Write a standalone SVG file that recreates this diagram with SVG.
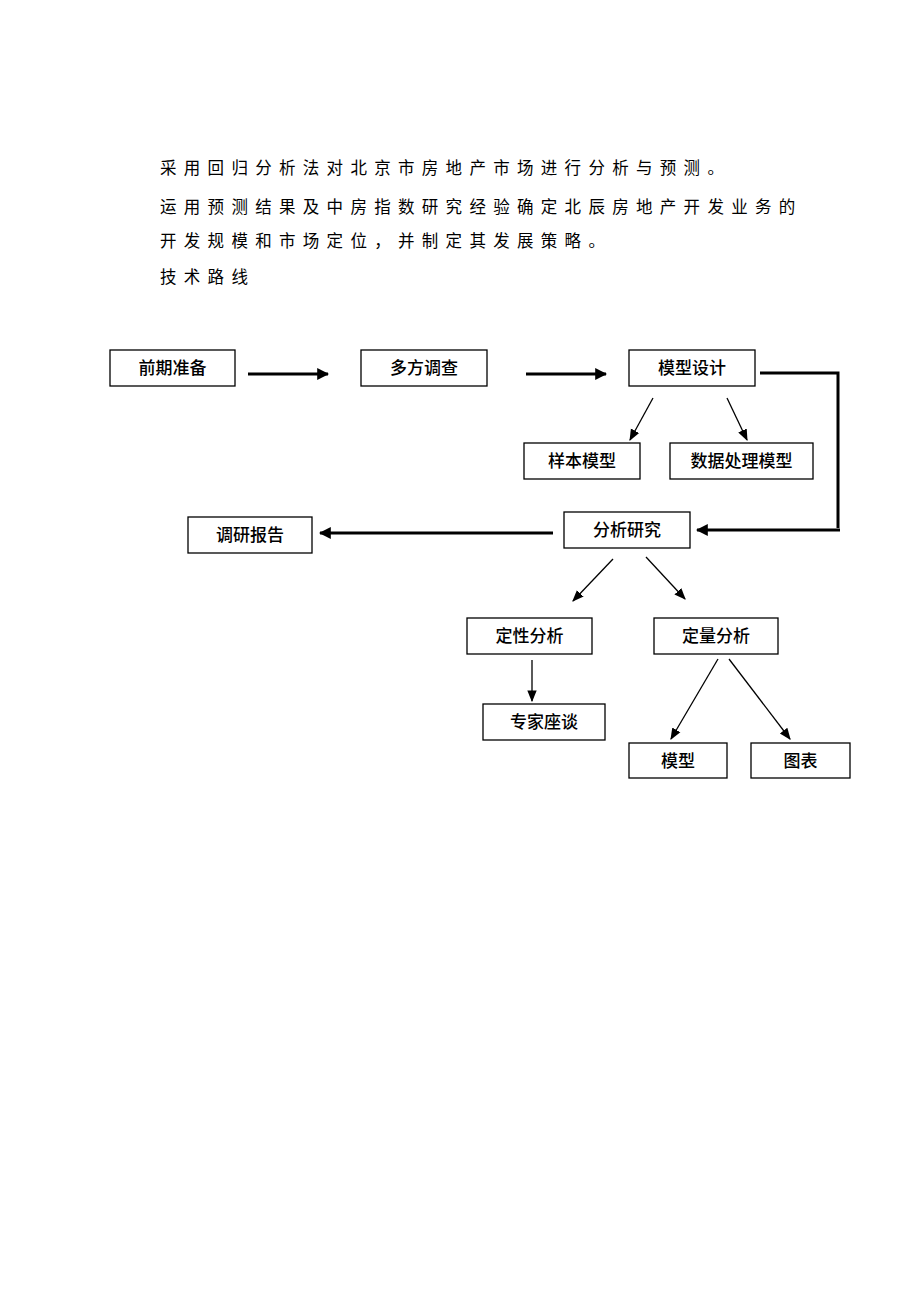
<svg xmlns="http://www.w3.org/2000/svg" width="920" height="1302" viewBox="0 0 920 1302">
<style>
.para{font-family:"Liberation Sans","Noto Sans CJK SC",sans-serif;font-size:16.5px;letter-spacing:7.3px;fill:#000}
.box{fill:#fff;stroke:#000;stroke-width:1.3}
.lbl{font-family:"Liberation Sans","Noto Sans CJK SC",sans-serif;font-size:17px;font-weight:500;fill:#000;text-anchor:middle}
.thick{stroke:#000;stroke-width:3;fill:none}
.thin{stroke:#000;stroke-width:1.3;fill:none}
</style>
<defs>
<marker id="ah" viewBox="0 0 10 10" refX="9" refY="5" markerWidth="4" markerHeight="4" markerUnits="strokeWidth" orient="auto"><path d="M0,0 L10,5 L0,10 z" fill="#000"/></marker>
<marker id="ahs" viewBox="0 0 10 10" refX="9" refY="5" markerWidth="9" markerHeight="9" markerUnits="strokeWidth" orient="auto"><path d="M0,1 L10,5 L0,9 z" fill="#000"/></marker>
</defs>
<rect width="920" height="1302" fill="#fff"/>
<g id="text">
<text class="para" x="160" y="174">采用回归分析法对北京市房地产市场进行分析与预测。</text>
<text class="para" x="160" y="213">运用预测结果及中房指数研究经验确定北辰房地产开发业务的</text>
<text class="para" x="160" y="247">开发规模和市场定位，并制定其发展策略。</text>
<text class="para" x="160" y="283">技术路线</text>
</g>
<g id="connectors">
<line class="thick" x1="248" y1="374" x2="328" y2="374" marker-end="url(#ah)"/>
<line class="thick" x1="526" y1="374" x2="606" y2="374" marker-end="url(#ah)"/>
<polyline class="thick" points="760,373 838,373 838,528"/>
<line class="thick" x1="840" y1="530" x2="697" y2="530" marker-end="url(#ah)"/>
<line class="thick" x1="553" y1="533" x2="320" y2="533" marker-end="url(#ah)"/>
<line class="thin" x1="653" y1="398" x2="630" y2="440" marker-end="url(#ahs)"/>
<line class="thin" x1="727" y1="398" x2="747" y2="440" marker-end="url(#ahs)"/>
<line class="thin" x1="613" y1="559" x2="573" y2="601" marker-end="url(#ahs)"/>
<line class="thin" x1="646" y1="557" x2="685" y2="599" marker-end="url(#ahs)"/>
<line class="thin" x1="532" y1="660" x2="532" y2="701" marker-end="url(#ahs)"/>
<line class="thin" x1="718" y1="659" x2="671" y2="739" marker-end="url(#ahs)"/>
<line class="thin" x1="729" y1="659" x2="790" y2="739" marker-end="url(#ahs)"/>
</g>
<g id="n1"><rect class="box" x="110" y="350" width="125" height="36"/><text class="lbl" x="172.5" y="374">前期准备</text></g>
<g id="n2"><rect class="box" x="361" y="350" width="126" height="36"/><text class="lbl" x="424" y="374">多方调查</text></g>
<g id="n3"><rect class="box" x="629" y="350" width="126" height="36"/><text class="lbl" x="692" y="374">模型设计</text></g>
<g id="n4"><rect class="box" x="524" y="443" width="116" height="36"/><text class="lbl" x="582" y="467">样本模型</text></g>
<g id="n5"><rect class="box" x="670" y="443" width="143" height="36"/><text class="lbl" x="741.5" y="467">数据处理模型</text></g>
<g id="n6"><rect class="box" x="188" y="517" width="124" height="36"/><text class="lbl" x="250" y="541">调研报告</text></g>
<g id="n7"><rect class="box" x="564" y="512" width="126" height="36"/><text class="lbl" x="627" y="536">分析研究</text></g>
<g id="n8"><rect class="box" x="467" y="618" width="125" height="36"/><text class="lbl" x="529.5" y="642">定性分析</text></g>
<g id="n9"><rect class="box" x="654" y="618" width="124" height="36"/><text class="lbl" x="716" y="642">定量分析</text></g>
<g id="n10"><rect class="box" x="483" y="704" width="122" height="36"/><text class="lbl" x="544" y="728">专家座谈</text></g>
<g id="n11"><rect class="box" x="629" y="743" width="98" height="35"/><text class="lbl" x="678" y="767">模型</text></g>
<g id="n12"><rect class="box" x="751" y="743" width="99" height="35"/><text class="lbl" x="800.5" y="767">图表</text></g>
</svg>
